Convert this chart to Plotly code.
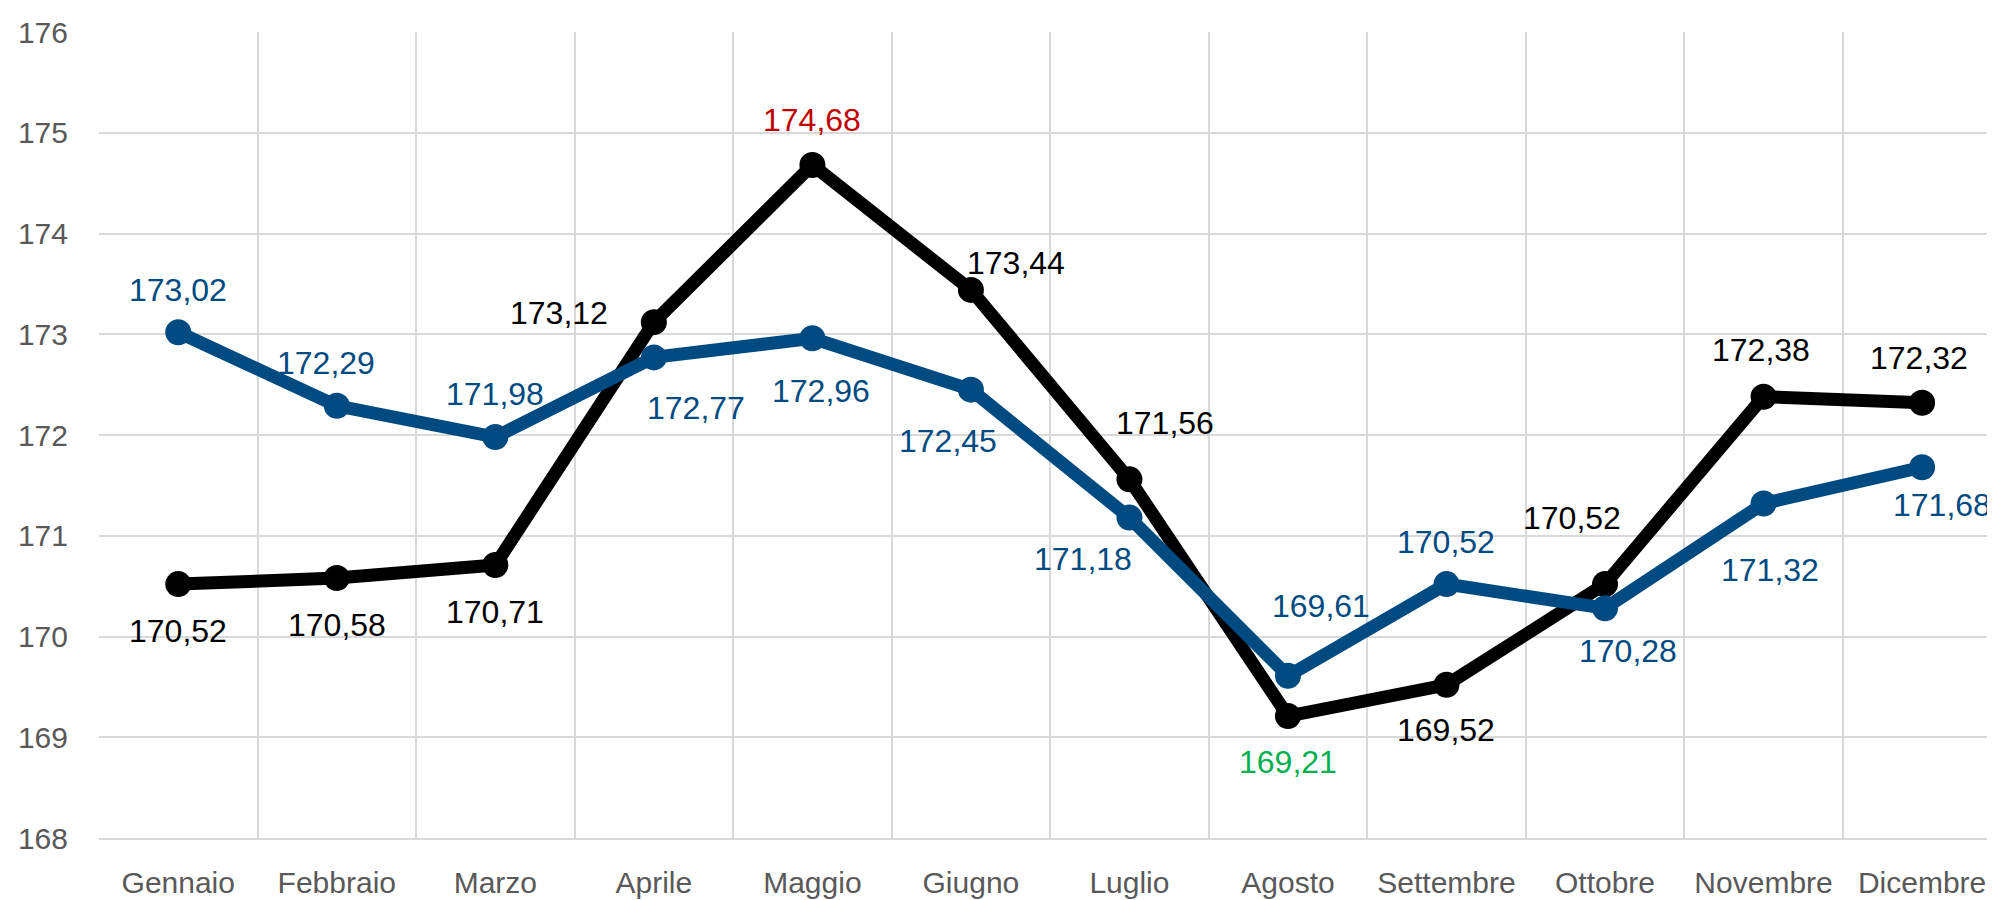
import plotly.graph_objects as go

mesi = ["Gennaio", "Febbraio", "Marzo", "Aprile", "Maggio", "Giugno",
        "Luglio", "Agosto", "Settembre", "Ottobre", "Novembre", "Dicembre"]
serie_nera = [170.52, 170.58, 170.71, 173.12, 174.68, 173.44,
              171.56, 169.21, 169.52, 170.52, 172.38, 172.32]
serie_blu = [173.02, 172.29, 171.98, 172.77, 172.96, 172.45,
             171.18, 169.61, 170.52, 170.28, 171.32, 171.68]

NERO = "#000000"
BLU = "#004A82"
GRIGIO = "#595959"
GRIGLIA = "#D9D9D9"
FONT = "Liberation Sans, Arial, sans-serif"

# label offsets (px) relative to each point
off_nera = [(0, -47), (0, -47), (0, -47), (-95, 9), (0, 45), (45, 27),
            (36, 56), (0, -46), (0, -45), (-33, 66), (-3, 47), (-3, 45)]
off_blu = [(0, 42), (-11, 43), (0, 43), (42, -51), (9, -53), (-23, -51),
           (-46, -41), (33, 70), (0, 42), (23, -43), (6, -66), (20, -38)]


def fmt(v):
    return f"{v:.2f}".replace(".", ",")


fig = go.Figure()
for valori, colore in [(serie_nera, NERO), (serie_blu, BLU)]:
    fig.add_trace(go.Scatter(
        x=mesi, y=valori, mode="lines+markers",
        line=dict(color=colore, width=13),
        marker=dict(color=colore, size=26),
        hoverinfo="skip", showlegend=False,
    ))

# data labels; max in red, min in green for the black series
vmax, vmin = max(serie_nera), min(serie_nera)
for valori, offs, colore in [(serie_nera, off_nera, NERO), (serie_blu, off_blu, BLU)]:
    for m, v, (dx, dy) in zip(mesi, valori, offs):
        c = colore
        if valori is serie_nera and v == vmax:
            c = "#C00000"
        elif valori is serie_nera and v == vmin:
            c = "#00B050"
        fig.add_annotation(
            x=m, y=v, text=fmt(v), showarrow=False,
            xshift=dx, yshift=dy, xanchor="center", yanchor="middle",
            font=dict(color=c, size=32, family=FONT),
        )

# page body keeps its default 8px margin, so the figure is 8px smaller
fig.update_layout(
    width=1987, height=892,
    margin=dict(l=91, r=0, t=24, b=62),
    plot_bgcolor="white", paper_bgcolor="white",
    font=dict(family=FONT, size=30, color=GRIGIO),
)
fig.update_xaxes(
    type="category", range=[-0.5, 11.46], automargin=False,
    tickson="boundaries", showgrid=True, gridcolor=GRIGLIA, gridwidth=2,
    showline=True, linecolor=GRIGLIA, linewidth=2,
    ticks="", ticklabelstandoff=17, zeroline=False,
)
fig.update_yaxes(
    range=[168, 176], dtick=1, showgrid=True, gridcolor=GRIGLIA, gridwidth=2,
    zeroline=False, ticks="", ticklabelstandoff=30, automargin=False,
)

fig.write_html("out.html")
